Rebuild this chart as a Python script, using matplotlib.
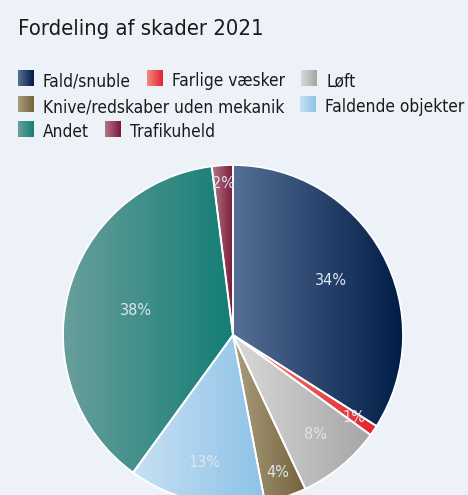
import matplotlib
matplotlib.use('Agg')
import matplotlib.pyplot as plt
import numpy as np
from matplotlib.colors import LinearSegmentedColormap
from matplotlib import font_manager as fm

# data
categories = ['Fald/snuble', 'Farlige væsker', 'Løft', 'Knive/redskaber uden mekanik',
              'Faldende objekter', 'Andet', 'Trafikuheld']
shares = [34, 1, 8, 4, 13, 38, 2]
pct_labels = ['34%', '1%', '8%', '4%', '13%', '38%', '2%']
title = 'Fordeling af skader 2021'

# gradient colours per slice (left -> right)
light = ['#566f97', '#f48a7c', '#d9d9d9', '#ab9e7f', '#c8e0f3', '#6b9f9c', '#b07887']
dark = ['#001c45', '#e3232e', '#a5a5a5', '#74623b', '#8cc3e8', '#137e75', '#7a1638']
label_r = [0.66, 0.86, 0.76, 0.85, 0.77, 0.59, 0.89]
legend_rows = [[0, 1, 2], [3, 4], [5, 6]]

BG = '#edf2f9'
W, H = 468, 495

# pick a narrow face if there is one
fam, stretch = 'Lato', 'normal'
p = fm.findfont(fm.FontProperties(family='DejaVu Sans', stretch='condensed'))
if 'Condensed' in p:
  fam, stretch = 'DejaVu Sans', 'condensed'
plt.rcParams['font.family'] = [fam, 'DejaVu Sans']
plt.rcParams['font.stretch'] = stretch

fig = plt.figure(figsize=(W / 100, H / 100), dpi=100, facecolor=BG)
ax = fig.add_axes([0, 0, 1, 1])
ax.set_facecolor(BG)
rend = fig.canvas.get_renderer()


def fit_size(txt, target, base=15):
  t = fig.text(0, 0, txt, fontsize=base)
  wd = t.get_window_extent(rend).width
  t.remove()
  return base * target / wd


cx, cy, R = 233, H - 335, 170
wedges, _ = ax.pie(shares, center=(cx, cy), radius=R, startangle=90, counterclock=False,
                   wedgeprops=dict(edgecolor='white', linewidth=1.3))

grad = np.linspace(0, 1, 256).reshape(1, -1)


def fill_grad(patch, x0, x1, y0, y1, c0, c1, z):
  cm = LinearSegmentedColormap.from_list('g', [c0, c1])
  im = ax.imshow(grad, extent=[x0, x1, y0, y1], cmap=cm, aspect='auto',
                 interpolation='bilinear', zorder=z)
  if patch is not None:
    im.set_clip_path(patch)
  return im


lab_fs = fit_size('34%', 28) * 1.15
for i, w in enumerate(wedges):
  v = w.get_path().vertices
  fill_grad(w, v[:, 0].min(), v[:, 0].max(), v[:, 1].min(), v[:, 1].max(), light[i], dark[i], 1.5)
  w.set_facecolor('none')
  w.set_zorder(2)
  mid = np.deg2rad((w.theta1 + w.theta2) / 2)
  ax.text(cx + label_r[i] * R * np.cos(mid), cy + label_r[i] * R * np.sin(mid), pct_labels[i],
          ha='center', va='center', fontsize=lab_fs, color='#dde5ee', zorder=3)

ax.text(18, H - 35, title, fontsize=fit_size(title, 237) * 1.04, color='#1a1a1a',
        va='baseline', ha='left')

# legend, flowed by measured text widths
leg_fs = fit_size(categories[3], 242)
baselines = [86, 112, 137]
for r, row in enumerate(legend_rows):
  x = 18
  b = baselines[r]
  for k in row:
    fill_grad(None, x, x + 16, H - b, H - b + 16, light[k], dark[k], 3)
    t = ax.text(x + 25, H - b, categories[k], fontsize=leg_fs, color='#1a1a1a', va='baseline', ha='left')
    x = x + 25 + t.get_window_extent(rend).width + 16

ax.set_xlim(0, W)
ax.set_ylim(0, H)
ax.axis('off')
fig.savefig('out.png', dpi=100, facecolor=BG)
